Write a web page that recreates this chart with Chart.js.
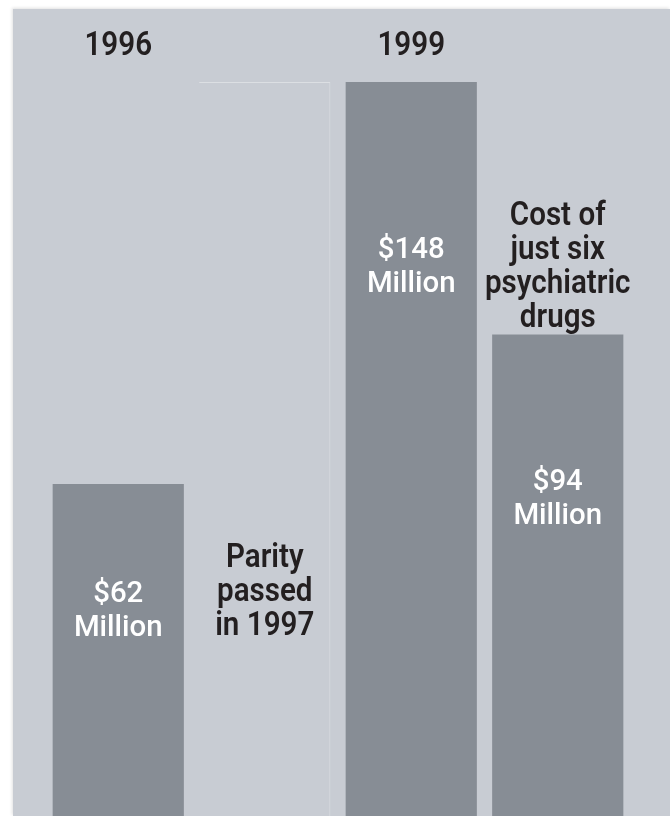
<!DOCTYPE html>
<html>
<head>
<meta charset="utf-8">
<script src="https://cdn.jsdelivr.net/npm/chart.js@4"></script>
<style>
  html,body{margin:0;padding:0;background:#fff;}
  #wrap{position:relative;width:670px;height:816px;overflow:hidden;}
  #panel{position:absolute;left:13px;top:9px;width:657px;height:807px;background:#c8ccd3;box-shadow:-1px -1px 3px rgba(0,0,0,0.12);}
  #chart{position:absolute;left:0;top:0;}
</style>
</head>
<body>
<div id="wrap">
  <div id="panel"></div>
  <canvas id="chart" width="670" height="816"></canvas>
</div>
<script>
// ---------- DATA ----------
const years = ['1996', '', '1999', ''];
const costs = [62, 148, 148, 94];          // $ million (2nd column is the empty "parity" column)
const barLabels = [['$62', 'Million'], [], ['$148', 'Million'], ['$94', 'Million']];
const parityNote = ['Parity', 'passed', 'in 1997'];
const drugsNote = ['Cost of', 'just six', 'psychiatric', 'drugs'];

// ---------- STYLE ----------
const FONT = "Roboto,'DejaVu Sans Condensed',sans-serif";
const barFill = '#878d95';
const panelFill = '#c8ccd3';
const labelTop = [110, 0, 168, 148];   // px below bar top for first label line
const lineH = 34;

// condensed text: squeeze the glyphs horizontally
function say(c, t, x, y, sx){
  c.save();
  c.translate(x, y);
  c.scale(sx, 1);
  c.fillText(t, 0, 0);
  c.restore();
}

const textPlugin = {
  id: 'texts',
  afterDatasetsDraw(chart){
    const c = chart.ctx;
    const bars = chart.getDatasetMeta(0).data;
    const xs = chart.scales.x;
    c.save();
    c.textAlign = 'center';
    c.textBaseline = 'middle';
    // year labels on top
    c.font = '600 34px ' + FONT;
    c.fillStyle = '#231f20';
    years.forEach((y, i) => { if (y) say(c, y, xs.getPixelForValue(i), 46, 0.87); });
    // dark notes
    parityNote.forEach((t, j) => say(c, t, bars[1].x, 558 + j*lineH, 0.87));
    const top94 = bars[3].y;
    drugsNote.forEach((t, j) => say(c, t, bars[3].x, top94 - 16 - (drugsNote.length-1-j)*lineH, 0.87));
    // white labels inside bars
    c.font = '500 30px ' + FONT;
    c.fillStyle = '#ffffff';
    barLabels.forEach((lines, i) => {
      lines.forEach((t, j) => say(c, t, bars[i].x, bars[i].y + labelTop[i] + j*lineH, 0.98));
    });
    c.restore();
  }
};

new Chart(document.getElementById('chart'), {
  type: 'bar',
  data: {
    labels: years,
    datasets: [{
      data: costs,
      base: -9,
      backgroundColor: [barFill, panelFill, barFill, barFill],
      borderColor: ['rgba(0,0,0,0)', '#dcdfe3', 'rgba(0,0,0,0)', 'rgba(0,0,0,0)'],
      borderWidth: [0, {top:1, right:1, left:0, bottom:0}, 0, 0],
      borderSkipped: false,
      barPercentage: 0.9,
      categoryPercentage: 0.995
    }]
  },
  options: {
    responsive: false,
    animation: false,
    layout: {padding: {left: 45, right: 39, top: 60, bottom: 0}},
    plugins: {legend: {display: false}, tooltip: {enabled: false}},
    scales: {
      x: {
        position: 'top',
        grid: {display: false},
        border: {display: false},
        ticks: {display: false}
      },
      y: {display: false, min: -9, max: 151}
    }
  },
  plugins: [textPlugin]
});
</script>
</body>
</html>
